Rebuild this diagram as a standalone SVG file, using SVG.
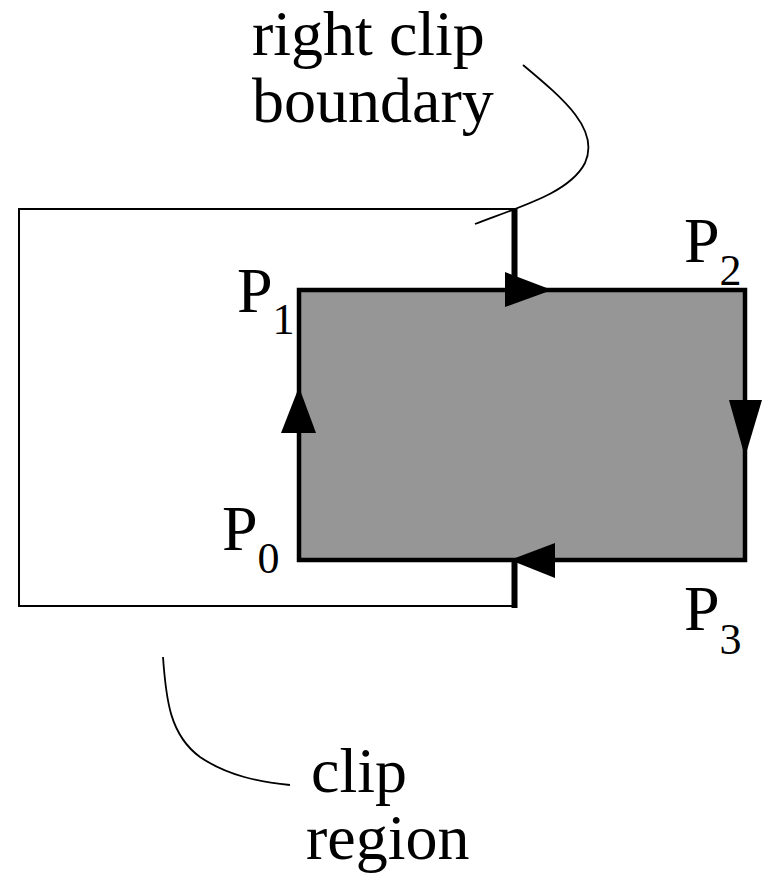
<svg xmlns="http://www.w3.org/2000/svg" width="767" height="878" viewBox="0 0 767 878">
<style>
.lbl{font-family:"Liberation Serif","Times New Roman",serif;font-size:64px;fill:#000}
.sub{font-size:44px}
.thin{fill:none;stroke:#000;stroke-width:2}
.thick{fill:none;stroke:#000;stroke-width:6}
.head{fill:#000;stroke:none}
.leader{fill:none;stroke:#000;stroke-width:1.8}
</style>
<rect width="767" height="878" fill="#fff"/>
<g id="clip-region">
<path class="thin" d="M514,209 H19 V606 H514"/>
</g>
<g id="polygon">
<rect x="299" y="290" width="446" height="270" fill="#969696" stroke="#000" stroke-width="4.5"/>
</g>
<g id="right-boundary">
<line class="thick" x1="514.5" y1="208" x2="514.5" y2="290"/>
<line class="thick" x1="514.5" y1="560" x2="514.5" y2="608"/>
</g>
<g id="connectors">
<polygon class="head" points="505,272 552,290 505,307"/>
<polygon class="head" points="729,400 762,400 745,457"/>
<polygon class="head" points="555,543 510,560 555,578"/>
<polygon class="head" points="281,433 299,387 316,433"/>
<path class="leader" d="M523,65 C565,100 600,130 585,163 C570,192 525,205 475,224"/>
<path class="leader" d="M163,657 C166,700 170,735 200,757 C228,776 260,782 290,785"/>
</g>
<g id="label-right-clip">
<text class="lbl" x="252" y="55">right clip</text>
<text class="lbl" x="252" y="122">boundary</text>
</g>
<g id="label-clip-region">
<text class="lbl" x="311" y="792">clip</text>
<text class="lbl" x="306" y="859">region</text>
</g>
<g id="label-p0"><text class="lbl" x="222" y="550">P<tspan class="sub" dy="23">0</tspan></text></g>
<g id="label-p1"><text class="lbl" x="237" y="312">P<tspan class="sub" dy="22">1</tspan></text></g>
<g id="label-p2"><text class="lbl" x="684" y="262">P<tspan class="sub" dy="23">2</tspan></text></g>
<g id="label-p3"><text class="lbl" x="684" y="630">P<tspan class="sub" dy="24">3</tspan></text></g>
</svg>
